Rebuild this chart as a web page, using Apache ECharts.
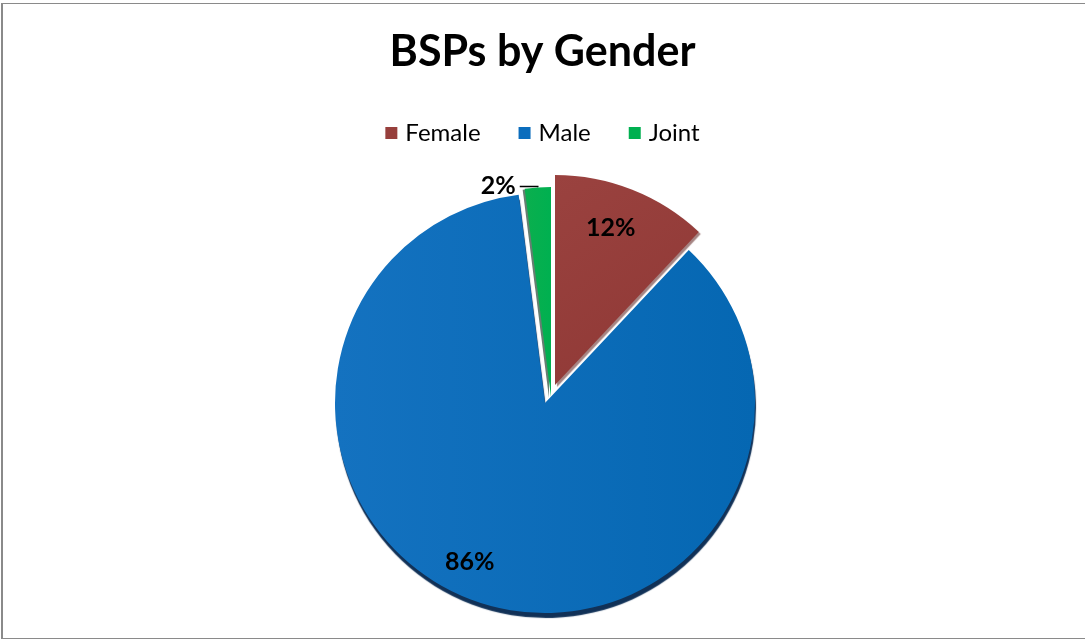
<!DOCTYPE html>
<html>
<head>
<meta charset="utf-8">
<script src="https://cdn.jsdelivr.net/npm/echarts@6/dist/echarts.min.js"></script>
<style>
  html, body { margin: 0; padding: 0; background: #fff; }
  #chart { position: absolute; left: 0; top: 0; width: 1085px; height: 639px; }
  #frame { position: absolute; left: 1px; top: 3px; width: 1100px; height: 634px;
           border-top: 1px solid #8a8a8a; border-left: 2px solid #8a8a8a; border-bottom: 2px solid #8a8a8a;
           pointer-events: none; }
</style>
</head>
<body>
<div id="chart"></div>
<div id="frame"></div>
<script>
// ---- data ----
const title = 'BSPs by Gender';
const categories = ['Female', 'Male', 'Joint'];
const values = [12, 86, 2];

// ---- styling ----
const solidColors = ['#973F3C', '#0B6DBD', '#00B050'];
const fills = [
  { type: 'linear', x: 0, y: 0, x2: 1, y2: 1, colorStops: [{ offset: 0, color: '#9A423F' }, { offset: 1, color: '#8F3835' }] },
  { type: 'linear', x: 0, y: 0, x2: 1, y2: 0, colorStops: [{ offset: 0, color: '#1472C0' }, { offset: 1, color: '#0567B2' }] },
  { type: 'linear', x: 0, y: 0, x2: 1, y2: 0, colorStops: [{ offset: 0, color: '#0BAF4E' }, { offset: 1, color: '#00B050' }] }
];
const shadows = [
  { shadowColor: 'rgba(90,30,28,0.55)', shadowBlur: 1, shadowOffsetX: 2, shadowOffsetY: 2 },
  { shadowColor: 'rgba(4,38,78,0.95)', shadowBlur: 1, shadowOffsetX: 1, shadowOffsetY: 5 },
  { shadowColor: 'rgba(0,40,20,0.6)', shadowBlur: 0, shadowOffsetX: -2, shadowOffsetY: 1 }
];
const centers = [[555, 385], [545, 403], [551, 397]];
const labelShift = [[16, -57], [-42, 56], [0, 0]];
const R = 210;
const FONT = 'Lato';

const chart = echarts.init(document.getElementById('chart'), null, { renderer: 'canvas' });

const drawOrder = [1, 0, 2];
const series = drawOrder.map(function (i) {
  return {
    type: 'pie',
    center: centers[i],
    radius: R,
    startAngle: 90,
    clockwise: true,
    percentPrecision: 0,
    avoidLabelOverlap: false,
    animation: false,
    silent: true,
    emphasis: { disabled: true, scale: false },
    data: categories.map(function (name, j) {
      if (j !== i) {
        return {
          name: name, value: values[j],
          itemStyle: { color: 'rgba(0,0,0,0)', borderWidth: 0, shadowColor: 'rgba(0,0,0,0)' },
          label: { show: false }, labelLine: { show: false }
        };
      }
      const isJoint = name === 'Joint';
      return {
        name: name, value: values[j],
        itemStyle: Object.assign({ color: fills[j], borderWidth: 0 }, shadows[j]),
        label: {
          show: true,
          position: isJoint ? 'outside' : 'inside',
          formatter: '{d}%',
          color: '#000',
          fontFamily: FONT,
          fontWeight: 'bold',
          fontSize: 25,
          distanceToLabelLine: 4
        },
        labelLine: {
          show: isJoint,
          length: 1,
          length2: 18,
          lineStyle: { color: '#000', width: 1.5 }
        }
      };
    }),
    labelLayout: function (params) {
      const s = labelShift[params.dataIndex];
      return { dx: s[0], dy: s[1] };
    }
  };
});

chart.setOption({
  backgroundColor: '#ffffff',
  title: {
    text: title,
    left: 'center',
    top: 26,
    textStyle: { fontFamily: FONT, fontWeight: 'bold', fontSize: 43, color: '#000' }
  },
  legend: {
    top: 116,
    left: 'center',
    itemWidth: 12,
    itemHeight: 12,
    itemGap: 38,
    icon: 'rect',
    textStyle: { fontFamily: FONT, fontSize: 24, color: '#000', padding: [0, 0, 0, 3] },
    data: categories.map(function (name, j) {
      return { name: name, icon: 'rect', itemStyle: { color: solidColors[j], opacity: 1, borderWidth: 0, shadowBlur: 0, shadowOffsetX: 0, shadowOffsetY: 0, shadowColor: 'rgba(0,0,0,0)' } };
    })
  },
  series: series
});
</script>
</body>
</html>
